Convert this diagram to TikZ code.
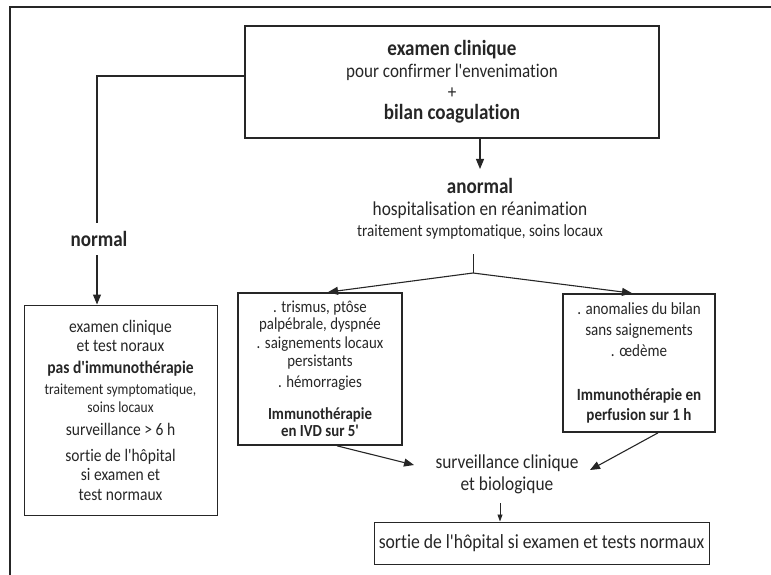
\documentclass[tikz,border=0pt]{standalone}
\usepackage{fontspec}
\newfontfamily\myfont{Carlito}[Ligatures=NoCommon, FakeStretch=0.88]
\usetikzlibrary{arrows.meta,calc}
\definecolor{ink}{HTML}{262626}
\tikzset{
  box/.style={draw=ink, line width=1.3pt, inner sep=0pt, align=center, text=ink},
  txt/.style={inner sep=0pt, align=center, text=ink},
  arr/.style={draw=ink, line width=1.1pt, -{Triangle[length=10pt,width=8pt]}},
  ln/.style={draw=ink, line width=1.1pt},
}
\newcommand\fs[2]{\fontsize{\fpeval{#1*1.14}}{#2}\selectfont}
\newcommand\bb[1]{{\fs{19}{21}\bfseries #1}}
\begin{document}
\begin{tikzpicture}[x=1pt,y=-1pt,font=\myfont]
\useasboundingbox (0,0) rectangle (771,575);
% outer frame (top and left edges)
\draw[ink, line width=1.4pt] (10,575) -- (10,7) -- (771,7);

% top box
\node[box, line width=1.5pt, minimum width=414pt, minimum height=112pt, font=\myfont\fs{17}{21.3}] (top) at (452,82)
  {\bb{examen clinique}\\ pour confirmer l'envenimation\\ +\\ \bb{bilan coagulation}};

% anormal
\node[txt, font=\myfont\fs{17.3}{21.5}] (anormal) at (480,209)
  {\bb{anormal}\\ hospitalisation en réanimation\\ {\fs{15}{21}traitement symptomatique, soins locaux}};

% normal
\node[txt, font=\myfont\fs{19}{21}\bfseries] (normal) at (99,239) {normal};

% left box
\node[box, line width=1pt, minimum width=193pt, minimum height=210pt, font=\myfont\fs{15.5}{19.5}] (left) at (120.5,410)
  {examen clinique\\ et test noraux\\[2pt] \textbf{pas d'immunothérapie}\\[2pt]
   {\fs{13.5}{19}traitement symptomatique,}\\[-2pt] {\fs{13.5}{18}soins locaux}\\[4pt]
   surveillance > 6 h\\[6pt] sortie de l'hôpital\\ si examen et\\ test normaux};

% trismus box
\node[box, line width=1.7pt, minimum width=164pt, minimum height=152pt, font=\myfont\fs{14.8}{18.5}] (tris) at (320,369)
  {. trismus, ptôse\\[-1.5pt] palpébrale, dyspnée\\ . saignements locaux\\ persistants\\[2pt] . hémorragies\\[14pt]
   \textbf{Immunothérapie}\\[-1.5pt] \textbf{en IVD sur 5'}};

% right box
\node[box, line width=1.7pt, minimum width=152pt, minimum height=138pt, font=\myfont\fs{15}{21}] (right) at (639,363)
  {. anomalies du bilan\\ sans saignements\\ . œdème\\[23pt]
   \textbf{Immunothérapie en}\\[-1pt] \textbf{perfusion sur 1 h}};

% surveillance
\node[txt, font=\myfont\fs{17.3}{22}] (surv) at (507,474) {surveillance clinique\\ et biologique};

% final box
\node[box, line width=1pt, minimum width=335pt, minimum height=42pt, font=\myfont\fs{17.6}{21}] (final) at (541.5,543)
  {sortie de l'hôpital si examen et tests normaux};

% connectors
\draw[arr] (top.south -| anormal.north) -- (480,169);

\coordinate (nc) at (97,76);
\coordinate (nabove) at (97,223);
\coordinate (nbelow) at (97,255);
\draw[ln] (top.west |- nc) -- (nc) -- (nabove);
\draw[arr] (nbelow) -- (nbelow |- left.north);

\coordinate (stemtop) at (473,254);
\coordinate (fork) at (473,273);
\draw[ln, line width=0.8pt] (stemtop) -- (fork);
\draw[arr] (fork) -- ($(tris.north)+(8,0)$);
\draw[arr] (fork) -- ($(right.north)+(-7,0)$);

\coordinate (t1) at ($(tris.south)+(17,0)$);
\coordinate (t2) at (414,465);
\draw[arr] (t1) -- (t2);
\coordinate (r1) at ($(right.south)+(19,0)$);
\coordinate (r2) at (590,470);
\draw[arr] (r1) -- (r2);

\coordinate (s1) at (500,503);
\draw[ink, line width=0.9pt, -{Triangle[length=7pt,width=5pt]}] (s1) -- (s1 |- final.north);
\end{tikzpicture}
\end{document}
